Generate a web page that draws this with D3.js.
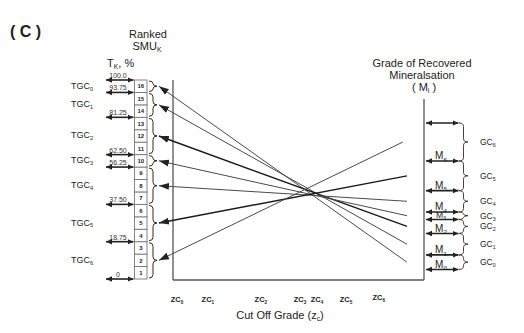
<!DOCTYPE html>
<html><head><meta charset="utf-8">
<script src="https://cdn.jsdelivr.net/npm/d3@7/dist/d3.min.js"></script>
<style>
html,body{margin:0;padding:0;background:#fff;}
svg{display:block;font-family:"Liberation Sans",Arial,sans-serif;}
</style></head>
<body>
<svg id="c" width="524" height="333"></svg>
<script>
// ---- data ----
const smuRanks = [1,2,3,4,5,6,7,8,9,10,11,12,13,14,15,16];
const tonnageLevels = [100, 93.75, 81.25, 62.5, 56.25, 37.5, 18.75, 0];
const tonnageLabels = ["100.0","93.75","81.25","62.50","56.25","37.50","18.75","0"];
const tgcSubs = ["0","1","2","3","4","5","6"];            // top to bottom
const gradeLevels = [78.4, 59.3, 44.4, 33.7, 29.9, 22.9, 12.1, 4.8]; // top, M6..M0
const mSubs = [null,"6","5","4","3","2","1","0"];
const gcSubs = ["6","5","4","3","2","1","0"];             // top to bottom
const zcSubs = ["0","1","2","3","4","5","6"];
const zcValues = [1.6, 13.9, 35.0, 50.6, 57.4, 68.9, 82.0];
// links: TGC group index (top->bottom) -> GC group index (top->bottom)
const linkFrom = [0,1,2,3,4,5,6];
const linkTo   = [6,5,4,3,2,1,0];
const linkStartZ = [-5.6,-5.6,-5.6,-5.6,-5.6,-5.6,-5.6];
const linkEndZ   = [93.2,93.2,93.2,93.2,93.2,93.2,91.6];
const linkThick  = [false,false,true,false,false,true,false];

// ---- scales ----
const yT = d3.scaleLinear().domain([0,100]).range([279,80]);
const yM = d3.scaleLinear().domain([0,100]).range([279,80]);
const x  = d3.scaleLinear().domain([0,100]).range([173,424]);

const svg = d3.select("#c");
const ink = "#222";
const defs = svg.append("defs");
function mk(id, len, wid){
  defs.append("marker").attr("id",id).attr("markerUnits","userSpaceOnUse")
    .attr("markerWidth",len+2).attr("markerHeight",wid+2)
    .attr("viewBox",`0 ${-wid/2-1} ${len+2} ${wid+2}`)
    .attr("refX",len).attr("refY",0).attr("orient","auto-start-reverse")
    .append("path").attr("d",`M0,${-wid/2}L${len},0L0,${wid/2}Z`).attr("fill",ink);
}
mk("ah",10,7);
mk("dh",6,5.5);

function sublabel(sel, main, sub, after){
  sel.append("tspan").text(main);
  if(sub!=null) sel.append("tspan").attr("font-size","62%").attr("dy","0.35em").text(sub);
  if(after!=null) sel.append("tspan").attr("dy", sub!=null ? "-0.22em" : 0).text(after);
  return sel;
}
function bracePath(x0, y0, y1, w){
  const m=(y0+y1)/2, h=w/2, r=Math.min(3.5,(y1-y0)/4);
  return `M${x0},${y0}Q${x0+h},${y0} ${x0+h},${y0+r}L${x0+h},${m-r}Q${x0+h},${m} ${x0+w},${m}`+
         `Q${x0+h},${m} ${x0+h},${m+r}L${x0+h},${y1-r}Q${x0+h},${y1} ${x0},${y1}`;
}

// title
svg.append("text").attr("x",10).attr("y",37).attr("font-size",16).attr("font-weight","bold")
  .attr("fill",ink).text("( C )");

// headings
svg.append("text").attr("x",148).attr("y",38).attr("text-anchor","middle").attr("font-size",11).attr("fill",ink).text("Ranked");
sublabel(svg.append("text").attr("x",147).attr("y",50).attr("text-anchor","middle").attr("font-size",11).attr("fill",ink),"SMU","K");
sublabel(svg.append("text").attr("x",107).attr("y",67).attr("font-size",11).attr("fill",ink),"T","K",", %");
svg.append("text").attr("x",422).attr("y",67).attr("text-anchor","middle").attr("font-size",11).attr("fill",ink).text("Grade of Recovered");
svg.append("text").attr("x",422).attr("y",79).attr("text-anchor","middle").attr("font-size",11).attr("fill",ink).text("Mineralsation");
sublabel(svg.append("text").attr("x",424).attr("y",91).attr("text-anchor","middle").attr("font-size",11).attr("fill",ink),"( M","i"," )");

// SMU cells
const cellH = yT(0)-yT(100/16);
const cells = svg.append("g");
smuRanks.forEach(k=>{
  const top = yT(k*100/16);
  cells.append("rect").attr("x",134.5).attr("y",top).attr("width",12.5).attr("height",cellH)
    .attr("fill","#fff").attr("stroke","#777").attr("stroke-width",0.9);
  cells.append("text").attr("x",140.8).attr("y",top+cellH/2+2.2).attr("text-anchor","middle")
    .attr("font-size",6).attr("font-weight","bold").attr("fill",ink).text(k);
});

// tonnage arrows
tonnageLevels.forEach((t,i)=>{
  const y=yT(t);
  svg.append("line").attr("x1",106).attr("x2",133.5).attr("y1",y).attr("y2",y)
    .attr("stroke",ink).attr("stroke-width",1.6).attr("marker-start","url(#dh)").attr("marker-end","url(#dh)");
  svg.append("text").attr("x",118).attr("y",y-2).attr("text-anchor","middle").attr("font-size",7)
    .attr("fill","#333").text(tonnageLabels[i]);
});

// left braces + TGC labels
for(let i=0;i<tonnageLevels.length-1;i++){
  const y0=yT(tonnageLevels[i])+1, y1=yT(tonnageLevels[i+1])-1;
  svg.append("path").attr("d",bracePath(149,y0,y1,8)).attr("fill","none").attr("stroke","#3a2a1a").attr("stroke-width",1);
  sublabel(svg.append("text").attr("x",71).attr("y",(y0+y1)/2+2.5).attr("font-size",9).attr("fill",ink),"TGC",tgcSubs[i]);
}

// plot frame
svg.append("line").attr("x1",x(0)).attr("x2",x(0)).attr("y1",80).attr("y2",yT(0)+1).attr("stroke","#555").attr("stroke-width",1.3);
svg.append("line").attr("x1",x(0)).attr("x2",x(100)).attr("y1",yT(0)+1).attr("y2",yT(0)+1).attr("stroke","#555").attr("stroke-width",1.6);
svg.append("line").attr("x1",x(100)).attr("x2",x(100)).attr("y1",99).attr("y2",yT(0)+1).attr("stroke","#555").attr("stroke-width",1.3);

// right M arrows, braces, GC labels
gradeLevels.forEach((g,i)=>{
  const y=yM(g);
  svg.append("line").attr("x1",426).attr("x2",458.5).attr("y1",y).attr("y2",y)
    .attr("stroke",ink).attr("stroke-width",1.6).attr("marker-start","url(#dh)").attr("marker-end","url(#dh)");
  if(mSubs[i]!=null)
    sublabel(svg.append("text").attr("x",441).attr("y",y-1.5).attr("text-anchor","middle")
      .attr("font-size",mSubs[i]==="3"?8.5:10).attr("fill",ink),"M",mSubs[i]);
});
for(let i=0;i<gradeLevels.length-1;i++){
  const y0=yM(gradeLevels[i]), y1=yM(gradeLevels[i+1]);
  svg.append("path").attr("d",bracePath(459,y0,y1,9)).attr("fill","none").attr("stroke","#3a2a1a").attr("stroke-width",0.9);
  sublabel(svg.append("text").attr("x",480).attr("y",(y0+y1)/2+3).attr("font-size",8.5).attr("fill",ink),"GC",gcSubs[i]);
}

// link lines
linkFrom.forEach((f,i)=>{
  const yl=(yT(tonnageLevels[f])+yT(tonnageLevels[f+1]))/2;
  const g=linkTo[i];
  const yr=(yM(gradeLevels[g])+yM(gradeLevels[g+1]))/2;
  svg.append("line").attr("x1",x(linkStartZ[i])).attr("y1",yl).attr("x2",x(linkEndZ[i])).attr("y2",yr)
    .attr("stroke",linkThick[i]?"#1a1a1a":"#4a4a4a").attr("stroke-width",linkThick[i]?1.4:1)
    .attr("marker-start","url(#ah)");
});

// x labels
zcValues.forEach((z,i)=>{
  sublabel(svg.append("text").attr("x",x(z)).attr("y",i===6?300:302).attr("text-anchor","middle")
    .attr("font-size",7.5).attr("font-weight","bold").attr("fill",ink),"ZC",zcSubs[i]);
});
sublabel(svg.append("text").attr("x",280).attr("y",319).attr("text-anchor","middle").attr("font-size",11).attr("fill",ink),"Cut Off Grade (z","c",")");
</script>
</body></html>
